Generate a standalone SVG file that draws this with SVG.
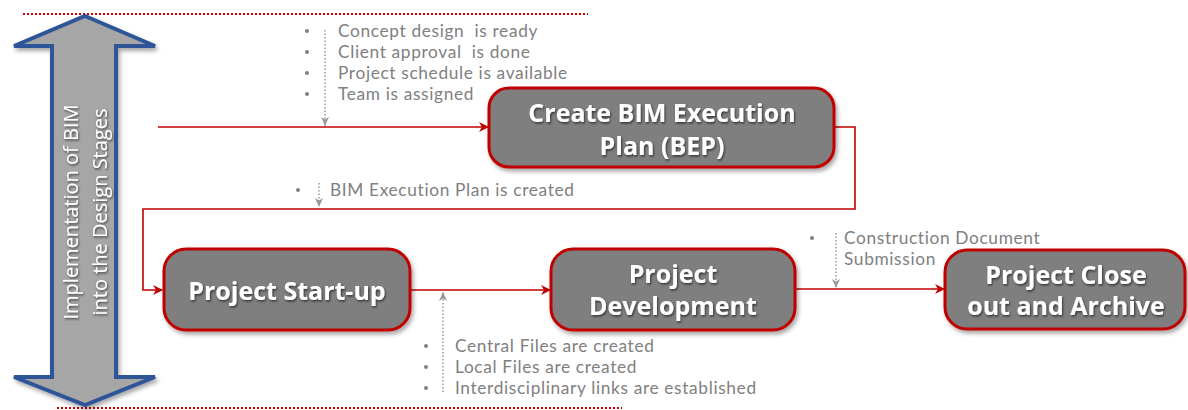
<svg xmlns="http://www.w3.org/2000/svg" width="1188" height="410" viewBox="0 0 1188 410">
<style>
.box{fill:#7f7f7f;stroke:#c00000;stroke-width:3}
.bt{font-family:"Open Sans","Liberation Sans",sans-serif;font-weight:bold;font-size:25px;fill:#fff;text-anchor:middle}
.note{font-family:Lato,"Open Sans",sans-serif;font-size:17.3px;letter-spacing:0.65px;fill:#808080;white-space:pre}
.dot{fill:#808080}
.con{fill:none;stroke:#c00000;stroke-width:1.6}
.dash{fill:none;stroke:#999;stroke-width:1.5;stroke-dasharray:1.5 2}
.sep{stroke:#d00000;stroke-width:2;stroke-dasharray:2 2}
</style>
<defs>
<marker id="ah" markerWidth="10" markerHeight="10" refX="9" refY="5" orient="auto" markerUnits="userSpaceOnUse">
<path d="M0,0 L10,5 L0,10 L3,5 Z" fill="#c00000"/>
</marker>
<marker id="gh" markerWidth="10" markerHeight="8" refX="9" refY="4" orient="auto" markerUnits="userSpaceOnUse">
<path d="M0,0 L9,4 L0,8 L2.5,4 Z" fill="#999"/>
</marker>
<filter id="sh" x="-10%" y="-10%" width="125%" height="130%">
<feDropShadow dx="2" dy="3" stdDeviation="2" flood-color="#000" flood-opacity="0.35"/>
</filter>
<filter id="ts" x="-5%" y="-20%" width="110%" height="150%">
<feDropShadow dx="1" dy="1.5" stdDeviation="0.8" flood-color="#000" flood-opacity="0.6"/>
</filter>
</defs>
<rect width="1188" height="410" fill="#fff"/>
<line class="sep" x1="23" y1="14" x2="588" y2="14"/>
<line class="sep" x1="57" y1="408" x2="622" y2="408"/>
<g id="side-arrow">
<path d="M85,16 L155,46 L116,46 L116,377 L155,377 L85,405 L14,377 L52,377 L52,46 L14,46 Z" fill="#a6a6a6" stroke="#2f5597" stroke-width="4" stroke-linejoin="miter" filter="url(#sh)"/>
<g font-family="Open Sans,Liberation Sans,sans-serif" font-size="20" fill="#fff" text-anchor="middle" filter="url(#ts)">
<text transform="translate(78,212) rotate(-90)">Implementation of BIM</text>
<text transform="translate(107,212) rotate(-90)">into the Design Stages</text>
</g>
</g>
<g id="connectors">
<line class="con" x1="158" y1="127" x2="488" y2="127" marker-end="url(#ah)"/>
<polyline class="con" points="835,127 855,127 855,209 143,209 143,290 162,290" marker-end="url(#ah)"/>
<line class="con" x1="410" y1="290" x2="550" y2="290" marker-end="url(#ah)"/>
<line class="con" x1="795" y1="289" x2="944" y2="289" marker-end="url(#ah)"/>
<line class="dash" x1="325" y1="30" x2="325" y2="126" marker-end="url(#gh)"/>
<line class="dash" x1="319" y1="183" x2="319" y2="207" marker-end="url(#gh)"/>
<line class="dash" x1="443" y1="392" x2="443" y2="292" marker-end="url(#gh)"/>
<line class="dash" x1="836" y1="233" x2="836" y2="288" marker-end="url(#gh)"/>
</g>
<g id="bep">
<rect class="box" x="489" y="88" width="345" height="79" rx="20" filter="url(#sh)"/>
<g class="bt" filter="url(#ts)"><text x="662" y="122">Create BIM Execution</text><text x="662" y="155">Plan (BEP)</text></g>
</g>
<g id="startup">
<rect class="box" x="164" y="249" width="246" height="81" rx="22" filter="url(#sh)"/>
<g class="bt" filter="url(#ts)"><text x="287" y="300">Project Start-up</text></g>
</g>
<g id="development">
<rect class="box" x="551" y="249" width="244" height="81" rx="22" filter="url(#sh)"/>
<g class="bt" filter="url(#ts)"><text x="673" y="283">Project</text><text x="673" y="315">Development</text></g>
</g>
<g id="closeout">
<rect class="box" x="945" y="250" width="240" height="79" rx="22" filter="url(#sh)"/>
<g class="bt" filter="url(#ts)"><text x="1066" y="284">Project Close</text><text x="1066" y="315">out and Archive</text></g>
</g>
<g id="notes-bep">
<circle class="dot" cx="307" cy="31" r="2"/><circle class="dot" cx="307" cy="52" r="2"/><circle class="dot" cx="307" cy="73" r="2"/><circle class="dot" cx="307" cy="94" r="2"/>
<text class="note" x="338" y="37">Concept design  is ready</text>
<text class="note" x="338" y="58">Client approval  is done</text>
<text class="note" x="338" y="79">Project schedule is available</text>
<text class="note" x="338" y="100">Team is assigned</text>
</g>
<g id="notes-created">
<circle class="dot" cx="298" cy="190" r="2"/>
<text class="note" x="330" y="196">BIM Execution Plan is created</text>
</g>
<g id="notes-startup">
<circle class="dot" cx="426" cy="346" r="2"/><circle class="dot" cx="426" cy="367" r="2"/><circle class="dot" cx="426" cy="388" r="2"/>
<text class="note" x="455" y="352">Central Files are created</text>
<text class="note" x="455" y="373">Local Files are created</text>
<text class="note" x="455" y="394">Interdisciplinary links are established</text>
</g>
<g id="notes-cd">
<circle class="dot" cx="812" cy="238" r="2"/>
<text class="note" x="844" y="244">Construction Document</text>
<text class="note" x="844" y="265">Submission</text>
</g>
</svg>
